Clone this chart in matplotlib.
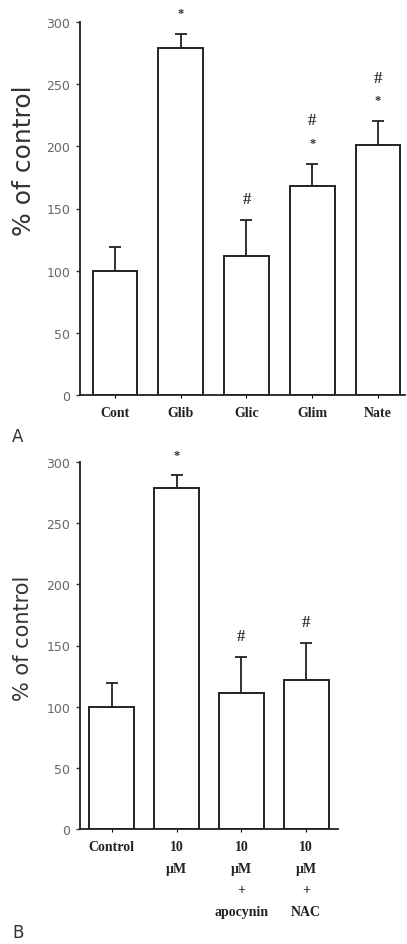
import matplotlib.pyplot as plt

# Panel A data
labels_a = ["Cont", "Glib", "Glic", "Glim", "Nate"]
means_a = [100, 279, 112, 168, 201]
sem_a = [19, 11, 29, 18, 19]
marks_a = [[], ["*"], ["#"], ["*", "#"], ["*", "#"]]

# Panel B data
labels_b = ["Control", "10\nµM", "10\nµM\n+\napocynin", "10\nµM\n+\nNAC"]
means_b = [100, 279, 111, 122]
sem_b = [19, 10, 30, 30]
marks_b = [[], ["*"], ["#"], ["#"]]

yticks = [0, 50, 100, 150, 200, 250, 300]

fig = plt.figure(figsize=(4.07, 9.45), dpi=100)


def draw_panel(ax, labels, means, sem, marks, width, xlim):
    x = list(range(len(labels)))
    ax.bar(x, means, width=width, color="white", edgecolor="#222222", linewidth=1.4, zorder=2)
    ax.errorbar(x, means, yerr=[[0] * len(sem), sem], fmt="none", ecolor="#222222",
                elinewidth=1.3, capsize=4.5, capthick=1.3, zorder=1)
    for xi, m, s, ts in zip(x, means, sem, marks):
        for k, t in enumerate(ts):
            size = 9 if t == "*" else 12
            ax.text(xi, m + s + 17 + k * 18, t, ha="center", va="center", fontsize=size,
                    fontweight="bold", family="Liberation Serif", color="#333333",
                    clip_on=False)
    ax.set_xlim(*xlim)
    ax.set_ylim(0, 300)
    ax.set_yticks(yticks)
    ax.set_xticks(x)
    ax.set_xticklabels(labels, family="Liberation Serif", fontweight="bold", fontsize=10,
                       color="#222222", linespacing=1.85)
    ax.tick_params(axis="y", direction="out", length=3, width=1, colors="#333333",
                   labelsize=9, labelcolor="#666666", pad=4)
    ax.tick_params(axis="x", direction="out", length=2, width=0.8, pad=6)
    for side in ["top", "right"]:
        ax.spines[side].set_visible(False)
    for side in ["left", "bottom"]:
        ax.spines[side].set_linewidth(1.3)
        ax.spines[side].set_color("#222222")


ax_a = fig.add_axes([80 / 407, 1 - 396 / 945, 325 / 407, 373 / 945])
draw_panel(ax_a, labels_a, means_a, sem_a, marks_a, 0.68, (-0.53, 4.41))

ax_b = fig.add_axes([80 / 407, 1 - 830 / 945, 258 / 407, 367 / 945])
draw_panel(ax_b, labels_b, means_b, sem_b, marks_b, 0.70, (-0.49, 3.49))

fig.text(24 / 407, 1 - 161 / 945, "% of control", rotation=90, ha="center", va="center",
         fontsize=18, color="#333333")
fig.text(23 / 407, 1 - 638 / 945, "% of control", rotation=90, ha="center", va="center",
         fontsize=15, color="#333333")
fig.text(18 / 407, 1 - 437 / 945, "A", ha="center", va="center", fontsize=12, color="#333333")
fig.text(18 / 407, 1 - 933 / 945, "B", ha="center", va="center", fontsize=12, color="#333333")

fig.savefig("out.png", dpi=100)
